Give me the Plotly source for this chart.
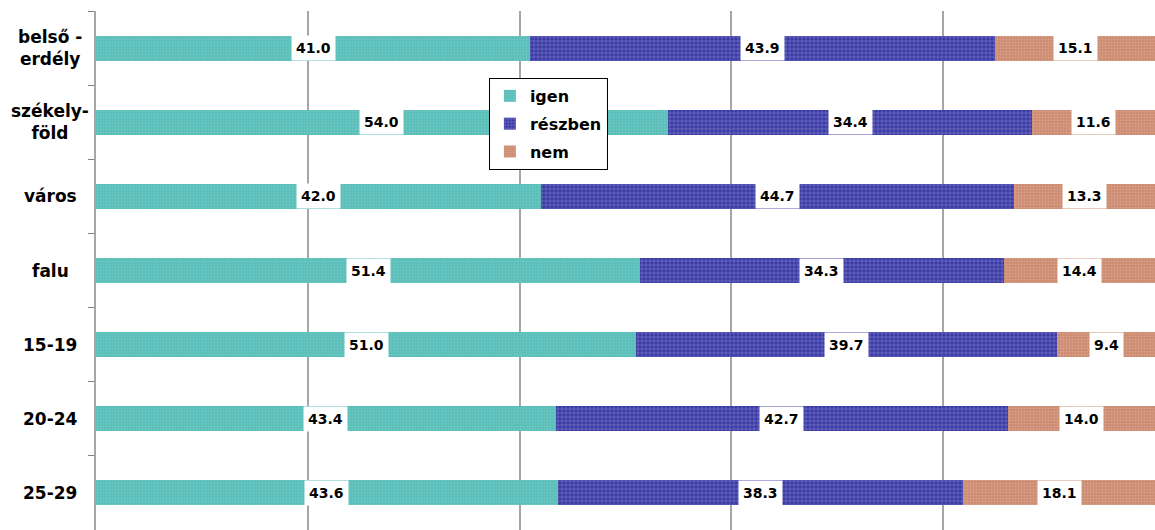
import plotly.graph_objects as go

categories = ["belső -<br>erdély", "székely-<br>föld", "város", "falu", "15-19", "20-24", "25-29"]
cat_keys = ["belso-erdely", "szekelyfold", "varos", "falu", "15-19", "20-24", "25-29"]
igen = [41.0, 54.0, 42.0, 51.4, 51.0, 43.4, 43.6]
reszben = [43.9, 34.4, 44.7, 34.3, 39.7, 42.7, 38.3]
nem = [15.1, 11.6, 13.3, 14.4, 9.4, 14.0, 18.1]
series_names = ["igen", "részben", "nem"]

FONT = "DejaVu Sans"

styles = [
    dict(shape=".", fgcolor="#8ED3CF", bgcolor="#58BDB8", size=3, solidity=0.35),
    dict(shape="+", fgcolor="#B4B4EC", bgcolor="#3A3AA4", size=4, solidity=0.3),
    dict(shape=".", fgcolor="#E6B9A8", bgcolor="#CC8A70", size=3, solidity=0.35),
]

fig = go.Figure()
data = [igen, reszben, nem]
for name, vals, st, g in zip(series_names, data, styles, ["a", "b", "c"]):
    fig.add_trace(go.Bar(
        y=cat_keys, x=vals, orientation="h", name="<b>%s</b>" % name,
        legendgroup=g,
        marker=dict(color=st["bgcolor"], line=dict(width=0), pattern=st),
        hoverinfo="skip",
    ))

# data labels at segment centres
for i, key in enumerate(cat_keys):
    start = 0.0
    for vals in data:
        v = vals[i]
        fig.add_annotation(
            x=start + v / 2, y=key, xref="x", yref="y",
            text="<b>%.1f</b>" % v, showarrow=False,
            font=dict(family=FONT, size=14, color="black"),
            bgcolor="white", borderpad=4,
        )
        start += v

# category labels
for key, lab in zip(cat_keys, categories):
    fig.add_annotation(
        x=-0.043, y=key, xref="paper", yref="y",
        text="<b>%s</b>" % lab, showarrow=False, align="center",
        xanchor="center", yanchor="middle",
        font=dict(family=FONT, size=17, color="black"),
    )

fig.update_layout(
    width=1155, height=530,
    margin=dict(l=96, r=0, t=11, b=0),
    barmode="stack", bargap=0.664,
    plot_bgcolor="white", paper_bgcolor="white",
    showlegend=True,
    legend=dict(
        x=0.371, y=0.871, xanchor="left", yanchor="top",
        bgcolor="white", bordercolor="black", borderwidth=1,
        font=dict(family=FONT, size=16, color="black"),
        traceorder="grouped", tracegroupgap=4,
        itemwidth=30,
    ),
    xaxis=dict(
        range=[0, 100], showticklabels=False, ticks="", automargin=False,
        showgrid=True, gridcolor="#A6A6A6", gridwidth=1.5,
        tickvals=[20, 40, 60, 80], zeroline=False, showline=False,
    ),
    yaxis=dict(
        type="category", autorange="reversed", automargin=False,
        showticklabels=False, ticks="outside", ticklen=6,
        tickcolor="#7F7F7F", tickwidth=1, tickson="boundaries",
        showline=True, linecolor="#A6A6A6", linewidth=1.5,
        showgrid=False, zeroline=False,
    ),
)

# remove the default page margin so the figure fills the window
fig.write_html(
    "out.html",
    config={"displayModeBar": False},
    post_script="document.body.style.margin='0';document.body.style.overflow='hidden';",
)
